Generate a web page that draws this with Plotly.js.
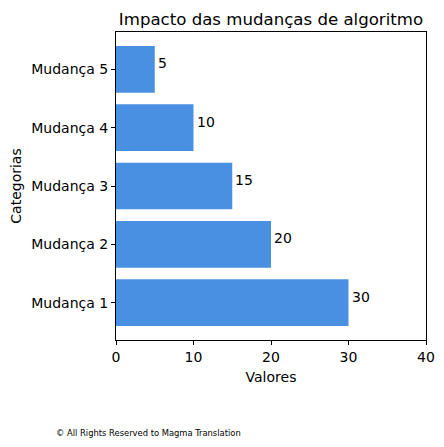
<!DOCTYPE html>
<html>
<head>
<meta charset="utf-8">
<script src="https://cdn.plot.ly/plotly-3.0.1.min.js"></script>
<style>
  body { margin: 0; background: #fff; }
  #chart { width: 444px; height: 447px; }
</style>
</head>
<body>
<div id="chart"></div>
<script>
// chart data
const categories = ["Mudança 1", "Mudança 2", "Mudança 3", "Mudança 4", "Mudança 5"];
const values = [30, 20, 15, 10, 5];
const xTicks = [0, 10, 20, 30, 40];

const positions = categories.map(function (c, i) { return i; });

var data = [{
  type: "bar",
  orientation: "h",
  x: values,
  y: positions,
  width: 0.8,
  marker: { color: "#4A90E2" },
  hoverinfo: "x+text",
  text: categories,
  textposition: "none"
}];

// value labels just right of each bar
var annotations = values.map(function (v, i) {
  return {
    x: v + 0.15,
    y: positions[i],
    xref: "x",
    yref: "y",
    text: String(v),
    showarrow: false,
    xanchor: "left",
    yanchor: "middle",
    yshift: 6,
    font: { size: 14, color: "#000" }
  };
});

// footer note
annotations.push({
  xref: "paper",
  yref: "paper",
  x: -0.2,
  y: -0.3,
  xanchor: "left",
  yanchor: "middle",
  text: "© All Rights Reserved to Magma Translation",
  showarrow: false,
  font: { family: "DejaVu Sans Condensed, DejaVu Sans", size: 9.3, color: "#000" }
});

var layout = {
  width: 444,
  height: 447,
  margin: { l: 116, r: 18, t: 32, b: 107 },
  paper_bgcolor: "#fff",
  plot_bgcolor: "#fff",
  font: { family: "DejaVu Sans", size: 14, color: "#000" },
  showlegend: false,
  title: {
    text: "Impacto das mudanças de algoritmo",
    font: { size: 16.6, color: "#000" },
    x: 0.5,
    xref: "paper",
    xanchor: "center",
    y: 1,
    yref: "paper",
    yanchor: "bottom",
    pad: { b: 7 }
  },
  xaxis: {
    range: [0, 40],
    tickvals: xTicks,
    ticktext: xTicks.map(String),
    ticks: "outside",
    ticklen: 4,
    tickcolor: "#000",
    showline: true,
    linecolor: "#000",
    linewidth: 1,
    mirror: true,
    showgrid: false,
    zeroline: false,
    title: { text: "Valores", font: { size: 14 }, standoff: 8 }
  },
  yaxis: {
    range: [-0.64, 4.64],
    tickvals: positions,
    ticktext: categories,
    ticks: "outside",
    ticklen: 4,
    tickcolor: "#000",
    showline: true,
    linecolor: "#000",
    linewidth: 1,
    mirror: true,
    showgrid: false,
    zeroline: false,
    title: { text: "Categorias", font: { size: 14 }, standoff: 6 }
  },
  annotations: annotations
};

Plotly.newPlot("chart", data, layout, { displayModeBar: false, staticPlot: true });
</script>
</body>
</html>
